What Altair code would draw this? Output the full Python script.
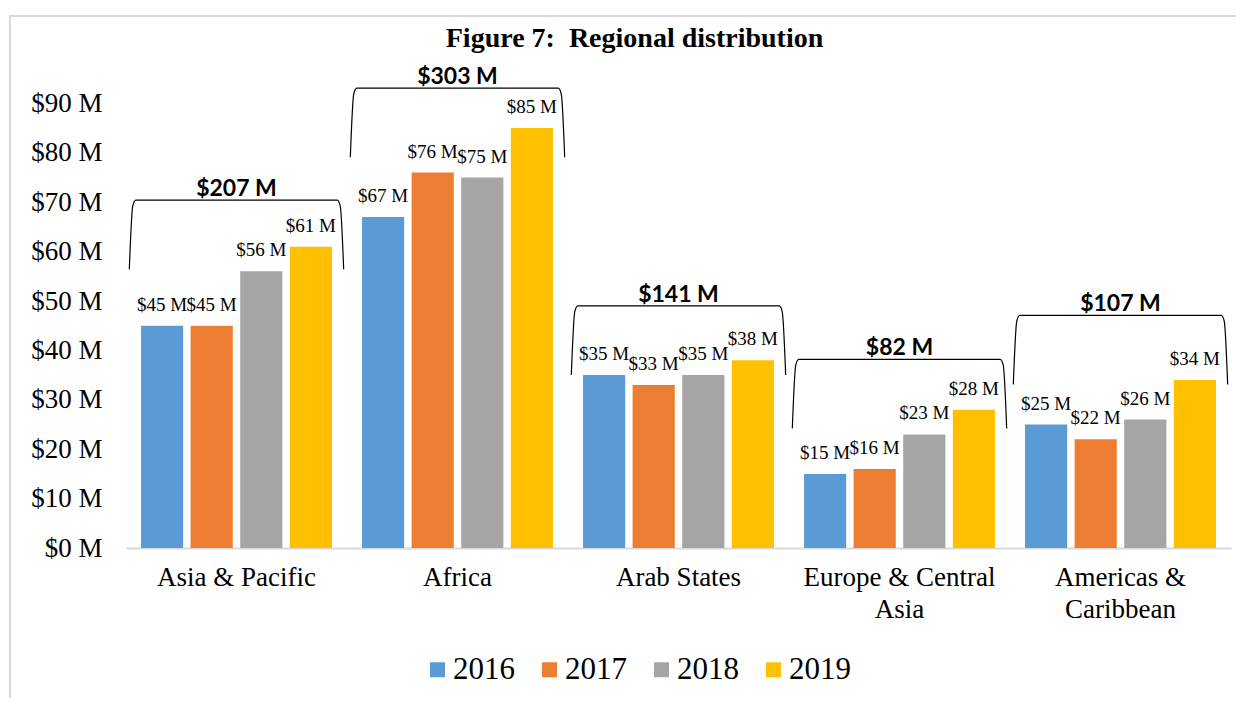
import altair as alt
import pandas as pd

regions = ["Asia & Pacific", "Africa", "Arab States", "Europe & Central Asia", "Americas & Caribbean"]
years = ["2016", "2017", "2018", "2019"]
v2016 = [45, 67, 35, 15, 25]
v2017 = [45, 76, 33, 16, 22]
v2018 = [56, 75, 35, 23, 26]
v2019 = [61, 85, 38, 28, 34]
bracket_top = [70.4, 93.1, 49.0, 38.2, 47.1]
colors = ["#5B9BD5", "#ED7D31", "#A5A5A5", "#FFC000"]

series = [v2016, v2017, v2018, v2019]
rows = []
for i, r in enumerate(regions):
    for y, vals in zip(years, series):
        rows.append({"Region": r, "Year": y, "Value": vals[i], "Label": f"${vals[i]} M"})
df = pd.DataFrame(rows)

totals = [sum(s[i] for s in series) for i in range(len(regions))]
tdf = pd.DataFrame({"Region": regions, "Top": bracket_top,
                    "Total": [f"${t} M" for t in totals]})

# bracket paths (annotation shape)
drop = 14
rel_x = [0.0, 0.016, 0.03, 0.97, 0.984, 1.0]
rel_y = [-drop, -1.2, 0.0, 0.0, -1.2, -drop]
brows = []
for i, r in enumerate(regions):
    left, right = i + 0.015, i + 0.985
    for k, (rx, ry) in enumerate(zip(rel_x, rel_y)):
        brows.append({"Region": r, "ord": k, "bx": left + rx * (right - left),
                      "by": bracket_top[i] + ry})
bdf = pd.DataFrame(brows)

label_expr = ("datum.label == 'Europe & Central Asia' ? ['Europe & Central', 'Asia'] : "
              "datum.label == 'Americas & Caribbean' ? ['Americas &', 'Caribbean'] : datum.label")

x_scale = alt.Scale(paddingInner=0.136, paddingOuter=0.068)
xo_scale = alt.Scale(paddingInner=0.15, paddingOuter=0)
y_scale = alt.Scale(domain=[0, 100], nice=False)

y_axis = alt.Axis(values=list(range(0, 100, 10)),
                  labelExpr="'$' + datum.value + ' M'",
                  labelFont="Liberation Serif", labelFontSize=27,
                  labelColor="black", ticks=False, domain=False,
                  grid=False, labelPadding=24, title=None)

x_main = alt.X("Region:N", sort=regions, scale=x_scale, title=None,
               axis=alt.Axis(labelAngle=0, labelFont="Liberation Serif", labelFontSize=27,
                             labelColor="black", ticks=False, domain=True,
                             domainColor="#d9d9d9", domainWidth=2, labelPadding=16,
                             labelLineHeight=32, labelExpr=label_expr, grid=False,
                             labelLimit=400))
x_plain = alt.X("Region:N", sort=regions, scale=x_scale, axis=None)
xo = alt.XOffset("Year:N", sort=years, scale=xo_scale)

base = alt.Chart(df)

bars = base.mark_bar().encode(
    x=x_main,
    xOffset=xo,
    y=alt.Y("Value:Q", scale=y_scale, title=None, axis=y_axis),
    color=alt.Color("Year:N", sort=years, scale=alt.Scale(domain=years, range=colors),
                    legend=alt.Legend(title=None, orient="none", legendX=296, legendY=600,
                                      direction="horizontal", columns=4, symbolType="square",
                                      symbolSize=225, symbolStrokeWidth=0,
                                      labelFont="Liberation Serif", labelFontSize=31,
                                      labelColor="black", columnPadding=19, labelOffset=0,
                                      padding=0)),
)

labels = base.mark_text(font="Liberation Serif", fontSize=19, color="black",
                        baseline="alphabetic", dy=-15).encode(
    x=x_plain,
    xOffset=xo,
    y=alt.Y("Value:Q", scale=y_scale, title=None, axis=y_axis),
    text="Label:N",
)

total_text = alt.Chart(tdf).mark_text(font="Lato", fontWeight="bold", fontSize=23,
                                      color="black", baseline="alphabetic", dy=-4).encode(
    x=x_plain,
    y=alt.Y("Top:Q", scale=y_scale, title=None, axis=y_axis),
    text="Total:N",
)

brackets = alt.Chart(bdf).mark_line(color="black", strokeWidth=1.2,
                                    interpolate="monotone").encode(
    x=alt.X("bx:Q", scale=alt.Scale(domain=[0, 5], nice=False, zero=False), axis=None),
    y=alt.Y("by:Q", scale=y_scale, title=None, axis=y_axis),
    detail="Region:N",
    order="ord:Q",
)

frame = alt.Chart(pd.DataFrame({"a": [0]})).mark_rect(
    filled=False, stroke="#d9d9d9", strokeWidth=2).encode(
    x=alt.value(-116), x2=alt.value(1145), y=alt.value(-38), y2=alt.value(720))

chart = alt.layer(frame, bars, labels, total_text, brackets).resolve_scale(
    x="independent"
).properties(
    width=1105, height=494,
    autosize=alt.AutoSizeParams(type="none"),
    padding={"left": 118, "top": 46, "right": 5, "bottom": 150},
    title=alt.Title("Figure 7:\u00a0 Regional distribution", font="Liberation Serif",
                    fontSize=28, fontWeight="bold", color="black", anchor="middle",
                    frame="group", dx=-44, offset=-60, baseline="alphabetic"),
).configure_view(stroke=None)

chart.save("out.html", embed_options={"renderer": "svg", "actions": False})
